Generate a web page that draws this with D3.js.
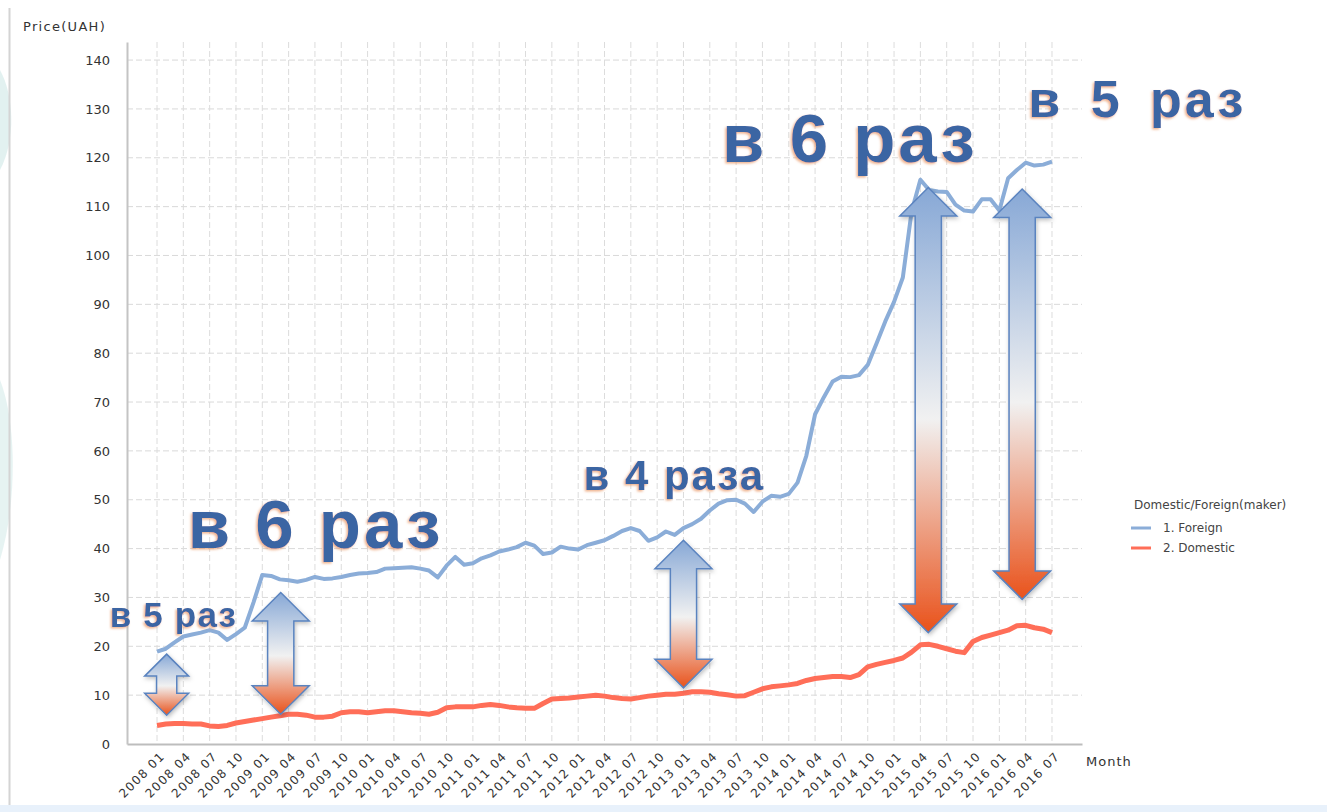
<!DOCTYPE html>
<html>
<head>
<meta charset="utf-8">
<script src="https://cdn.jsdelivr.net/npm/d3@7"></script>
<style>
  html, body { margin: 0; padding: 0; background: #fff; }
  svg { display: block; }
  .tick text { fill: #333; }
</style>
</head>
<body>
<svg id="chart" width="1327" height="812"></svg>
<script>
// quarterly tick labels on the month axis
const tickLabels = [
  "2008 01","2008 04","2008 07","2008 10","2009 01","2009 04","2009 07","2009 10",
  "2010 01","2010 04","2010 07","2010 10","2011 01","2011 04","2011 07","2011 10",
  "2012 01","2012 04","2012 07","2012 10","2013 01","2013 04","2013 07","2013 10",
  "2014 01","2014 04","2014 07","2014 10","2015 01","2015 04","2015 07","2015 10",
  "2016 01","2016 04","2016 07"
];
const yTicks = [0,10,20,30,40,50,60,70,80,90,100,110,120,130,140];

// monthly prices, 2008 01 .. 2016 07 (UAH)
const foreign = [
  18.9,19.5,20.8,22.0,22.4,22.8,23.3,22.8,21.3,22.5,23.8,29.0,
  34.6,34.4,33.7,33.5,33.2,33.6,34.2,33.8,33.9,34.2,34.6,34.9,
  35.0,35.2,35.9,36.0,36.1,36.2,35.9,35.5,34.1,36.5,38.3,36.7,
  37.0,38.0,38.6,39.4,39.8,40.3,41.2,40.6,38.9,39.2,40.4,40.0,
  39.8,40.7,41.2,41.7,42.6,43.6,44.2,43.6,41.6,42.3,43.5,42.8,
  44.2,45.0,46.1,47.8,49.2,49.9,50.0,49.2,47.5,49.6,50.8,50.6,
  51.2,53.5,59.0,67.5,71.0,74.2,75.2,75.1,75.5,77.6,82.0,86.5,
  90.5,95.5,109.0,115.5,113.4,113.1,113.0,110.4,109.2,109.0,111.5,111.5,
  109.2,115.8,117.5,119.0,118.4,118.6,119.2
];
const domestic = [
  3.8,4.1,4.2,4.2,4.1,4.1,3.7,3.6,3.8,4.3,4.6,4.9,
  5.2,5.5,5.8,6.1,6.1,5.9,5.5,5.5,5.7,6.4,6.6,6.6,
  6.4,6.6,6.8,6.8,6.6,6.4,6.3,6.1,6.5,7.4,7.6,7.6,
  7.6,7.9,8.1,7.9,7.6,7.4,7.3,7.3,8.3,9.2,9.3,9.4,
  9.6,9.8,10.0,9.8,9.5,9.3,9.2,9.5,9.8,10.0,10.2,10.2,
  10.4,10.7,10.7,10.6,10.3,10.1,9.8,9.9,10.6,11.3,11.7,11.9,
  12.1,12.4,13.0,13.4,13.6,13.8,13.8,13.6,14.2,15.8,16.3,16.7,
  17.1,17.6,18.8,20.3,20.4,20.0,19.5,19.0,18.7,21.0,21.8,22.3,
  22.8,23.3,24.2,24.3,23.8,23.5,22.8
];
const seriesNames = ["1. Foreign", "2. Domestic"];
const seriesColors = ["#8badd8", "#ff6e58"];

// ratio arrows: month index, upper and lower price
const arrowMonth = [1.1, 14.1, 60.0, 87.9, 98.6];
const arrowTop = [18.4, 31.0, 41.7, 113.9, 113.6];
const arrowBottom = [5.9, 6.1, 11.5, 22.8, 29.6];

// ratio notes: text, month index, price at baseline
const noteText = ["в 5 раз", "в 6 раз", "в 4 раза", "в 6 раз", "в 5 раз"];
const noteMonth = [-5.4, 3.5, 48.6, 64.4, 99.3];
const noteValue = [23.9, 40.1, 52.0, 119.1, 128.4];
const noteSize = [35, 69, 42, 69, 52];
const noteSpacing = [1.2, 3, 2, 3, 3];
const noteWordSpacing = [0, 0, 0, 0, 10];

var margin = {left: 127, right: 245, top: 42, bottom: 68};
var width = 1327, height = 812;

let svg = d3.select("#chart");

let x = d3.scaleLinear()
  .domain([-3.42, 105.42])
  .range([margin.left, width - margin.right]);
let y = d3.scaleLinear()
  .domain([0, 143.7])
  .range([height - margin.bottom, margin.top]);

let defs = svg.append("defs");

// slide decoration behind the picture
svg.append("rect").attr("x", 0).attr("y", 805).attr("width", width).attr("height", 7).attr("fill", "#e8f1fb");
svg.append("path").attr("d", "M0,70 C14,95 16,140 0,170 Z").attr("fill", "#d6ebea").attr("opacity", 0.7);
svg.append("path").attr("d", "M0,380 C16,420 18,500 0,560 Z").attr("fill", "#d6ebea").attr("opacity", 0.6);
svg.append("line").attr("x1", 9.5).attr("x2", 9.5).attr("y1", 8).attr("y2", 805)
  .attr("stroke", "#d4d4d4").attr("stroke-width", 2);

// grid
let quarterIdx = tickLabels.map((d, i) => i * 3);
svg.append("g").selectAll("line")
  .data(yTicks.slice(1))
  .enter().append("line")
  .attr("x1", x.range()[0]).attr("x2", x.range()[1])
  .attr("y1", d => y(d)).attr("y2", d => y(d))
  .attr("stroke", "#d9d9d9").attr("stroke-dasharray", "6,3");
svg.append("g").selectAll("line")
  .data(quarterIdx)
  .enter().append("line")
  .attr("x1", d => x(d)).attr("x2", d => x(d))
  .attr("y1", y.range()[1]).attr("y2", y(0))
  .attr("stroke", "#dcdcdc").attr("stroke-dasharray", "6,3");

// axes
let xAxis = svg.append("g")
  .attr("transform", "translate(0," + y(0) + ")")
  .call(d3.axisBottom(x).tickValues(quarterIdx).tickSize(0).tickFormat((d, i) => tickLabels[i]));
xAxis.select(".domain").attr("stroke", "#bdbdbd").attr("stroke-width", 2);
xAxis.selectAll("text")
  .attr("font-family", "DejaVu Sans").attr("font-size", 12).attr("letter-spacing", "1.3px")
  .attr("text-anchor", "end")
  .attr("dy", "0.35em").attr("y", 0)
  .attr("transform", "translate(5,10) rotate(-45)");

let yAxis = svg.append("g")
  .attr("transform", "translate(" + margin.left + ",0)")
  .call(d3.axisLeft(y).tickValues(yTicks).tickSize(0).tickPadding(17));
yAxis.select(".domain").attr("stroke", "#c4c4c4").attr("stroke-width", 2);
yAxis.selectAll("text").attr("font-family", "DejaVu Sans").attr("font-size", 13);

svg.append("text").attr("x", 23).attr("y", 31)
  .attr("font-family", "DejaVu Sans").attr("font-size", 13).attr("letter-spacing", "1.3px")
  .attr("fill", "#333").text("Price(UAH)");
svg.append("text").attr("x", 1086).attr("y", 766)
  .attr("font-family", "DejaVu Sans").attr("font-size", 13).attr("letter-spacing", "1px")
  .attr("fill", "#333").text("Month");

// lines
let line = d3.line().x((d, i) => x(i)).y(d => y(d));
[foreign, domestic].forEach((data, k) => {
  svg.append("path")
    .datum(data)
    .attr("d", line)
    .attr("fill", "none")
    .attr("stroke", seriesColors[k])
    .attr("stroke-width", k == 0 ? 4 : 5)
    .attr("stroke-linejoin", "round");
});

// legend
let legend = svg.append("g").attr("font-family", "DejaVu Sans").attr("font-size", 12).attr("fill", "#444");
legend.append("text").attr("x", 1134).attr("y", 509).text("Domestic/Foreign(maker)");
seriesNames.forEach((name, k) => {
  legend.append("line")
    .attr("x1", 1131).attr("x2", 1151)
    .attr("y1", 528 + k * 20).attr("y2", 528 + k * 20)
    .attr("stroke", seriesColors[k]).attr("stroke-width", 3);
  legend.append("text").attr("x", 1163).attr("y", 532 + k * 20).text(name);
});

// arrows
let shadow = defs.append("filter").attr("id", "shadow").attr("x", "-30%").attr("y", "-10%").attr("width", "160%").attr("height", "120%");
shadow.append("feDropShadow").attr("dx", 1).attr("dy", 2).attr("stdDeviation", 2)
  .attr("flood-color", "#000").attr("flood-opacity", 0.25);

arrowMonth.forEach((m, k) => {
  let cx = x(m), y0 = y(arrowTop[k]), y1 = y(arrowBottom[k]);
  let len = y1 - y0;
  let hw = Math.min(28.5, len * 0.36), sw = hw * 0.46, hh = hw;
  let grad = defs.append("linearGradient").attr("id", "ag" + k)
    .attr("gradientUnits", "userSpaceOnUse")
    .attr("x1", 0).attr("x2", 0).attr("y1", y0).attr("y2", y1);
  grad.append("stop").attr("offset", "0%").attr("stop-color", "#87a8d6");
  grad.append("stop").attr("offset", "52%").attr("stop-color", "#f1f1f1");
  grad.append("stop").attr("offset", "100%").attr("stop-color", "#e9521b");
  let p = d3.path();
  p.moveTo(cx, y0);
  p.lineTo(cx + hw, y0 + hh);
  p.lineTo(cx + sw, y0 + hh);
  p.lineTo(cx + sw, y1 - hh);
  p.lineTo(cx + hw, y1 - hh);
  p.lineTo(cx, y1);
  p.lineTo(cx - hw, y1 - hh);
  p.lineTo(cx - sw, y1 - hh);
  p.lineTo(cx - sw, y0 + hh);
  p.lineTo(cx - hw, y0 + hh);
  p.closePath();
  svg.append("path")
    .attr("d", p.toString())
    .attr("fill", "url(#ag" + k + ")")
    .attr("stroke", "#5a83bf").attr("stroke-width", 1.5)
    .attr("stroke-linejoin", "miter")
    .attr("filter", "url(#shadow)");
});

// notes
let glow = defs.append("filter").attr("id", "glow").attr("x", "-10%").attr("y", "-20%").attr("width", "120%").attr("height", "140%");
glow.append("feDropShadow").attr("dx", -1.5).attr("dy", 1.5).attr("stdDeviation", 1)
  .attr("flood-color", "#e8915c").attr("flood-opacity", 0.7);

noteText.forEach((t, k) => {
  svg.append("text")
    .attr("x", x(noteMonth[k])).attr("y", y(noteValue[k]))
    .attr("font-family", "Liberation Sans, Arial, sans-serif")
    .attr("font-weight", "bold")
    .attr("font-size", noteSize[k])
    .attr("letter-spacing", noteSpacing[k] + "px")
    .attr("word-spacing", noteWordSpacing[k] + "px")
    .attr("fill", "#3a65a3")
    .attr("filter", "url(#glow)")
    .text(t);
});
</script>
</body>
</html>
